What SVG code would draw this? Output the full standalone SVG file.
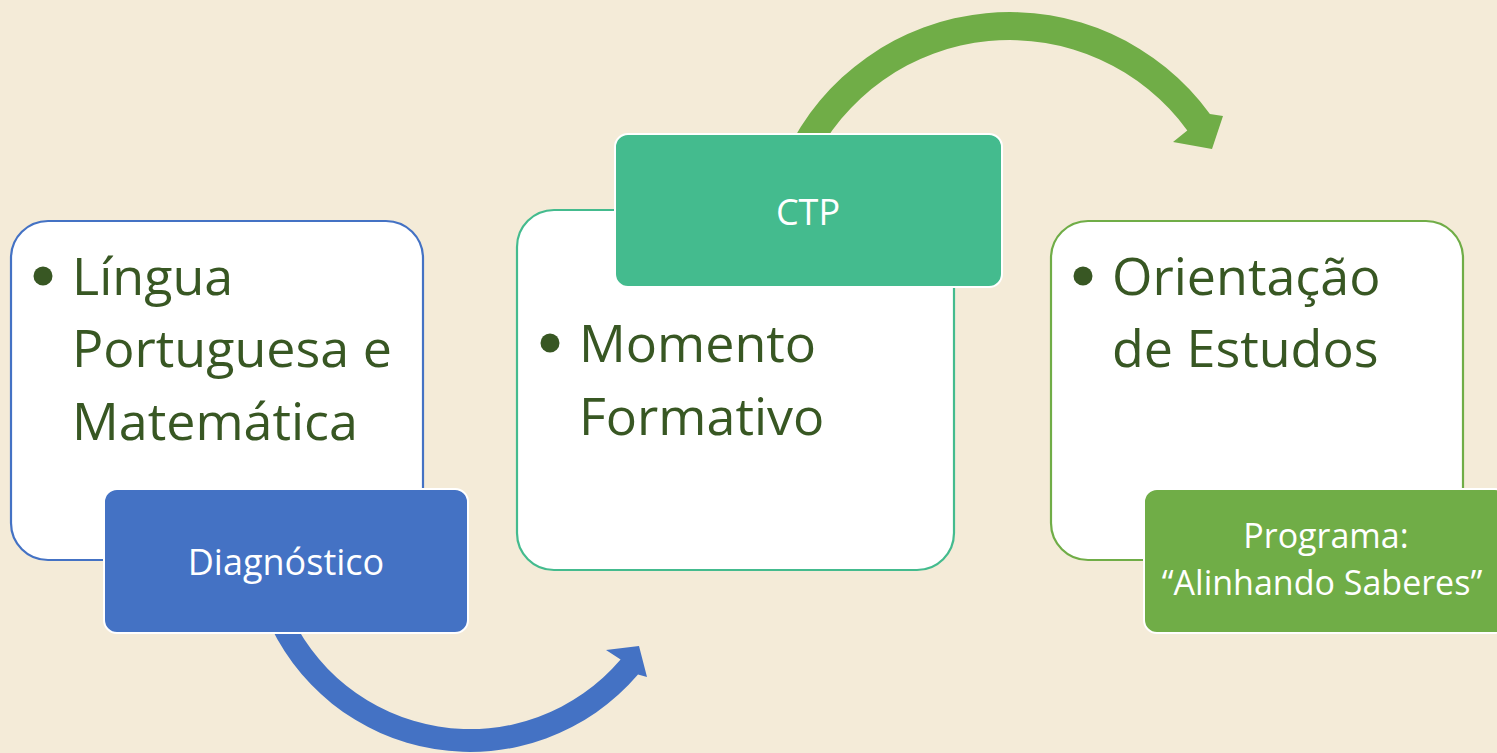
<svg xmlns="http://www.w3.org/2000/svg" width="1497" height="753" viewBox="0 0 1497 753">
<style>
.card{fill:#FFFFFF;stroke-width:2.2}
.tag{stroke:#FFFFFF;stroke-width:2}
.main{font-family:"Open Sans","Noto Sans","Liberation Sans",sans-serif;font-size:52px;fill:#385723}
.lab{font-family:"Open Sans","Noto Sans","Liberation Sans",sans-serif;font-size:36px;fill:#FFFFFF;text-anchor:middle}
.lab2{font-size:34px}
.bul{fill:#385723}
</style>
<rect x="0" y="0" width="1497" height="753" fill="#F4EBD8"/>
<g id="connectors">
<path id="arrow-blue" fill="#4472C4" d="M 265.1 613.8 A 221 221 0 0 0 638.0 674.5 L 647 677 L 639 646 L 606 650 L 620.6 659.6 A 198 198 0 0 1 286.4 605.2 Z"/>
<path id="arrow-green" fill="#70AD47" d="M 785.4 154.9 A 247.5 247.5 0 0 1 1209.9 114.0 L 1223 116 L 1212 149 L 1173 142 L 1187.3 130.5 A 219.5 219.5 0 0 0 810.8 166.7 Z"/>
</g>
<g id="node-lingua">
<rect class="card" x="11" y="221" width="412" height="339" rx="37" stroke="#4472C4"/>
<circle class="bul" cx="43" cy="276" r="9.5"/>
<text class="main" x="72" y="295">Língua</text>
<text class="main" x="72" y="367">Portuguesa e</text>
<text class="main" x="72" y="440">Matemática</text>
</g>
<g id="node-diagnostico">
<rect class="tag" x="104" y="489" width="364" height="144" rx="13" fill="#4472C4"/>
<text class="lab" x="286" y="575">Diagnóstico</text>
</g>
<g id="node-momento">
<rect class="card" x="517" y="210" width="437" height="360" rx="37" stroke="#44BB8E"/>
<circle class="bul" cx="550" cy="343" r="9.5"/>
<text class="main" x="579" y="362">Momento</text>
<text class="main" x="579" y="435">Formativo</text>
</g>
<g id="node-ctp">
<rect class="tag" x="615" y="134" width="387" height="153" rx="13" fill="#44BB8E"/>
<text class="lab" x="808" y="225">CTP</text>
</g>
<g id="node-orientacao">
<rect class="card" x="1051" y="221" width="412" height="339" rx="37" stroke="#70AD47"/>
<circle class="bul" cx="1083" cy="276" r="9.5"/>
<text class="main" x="1112" y="295">Orientação</text>
<text class="main" x="1112" y="367">de Estudos</text>
</g>
<g id="node-programa">
<rect class="tag" x="1144" y="489" width="364" height="144" rx="13" fill="#70AD47"/>
<text class="lab lab2" x="1326" y="548">Programa:</text>
<text class="lab lab2" x="1322" y="595">“Alinhando Saberes”</text>
</g>
</svg>
